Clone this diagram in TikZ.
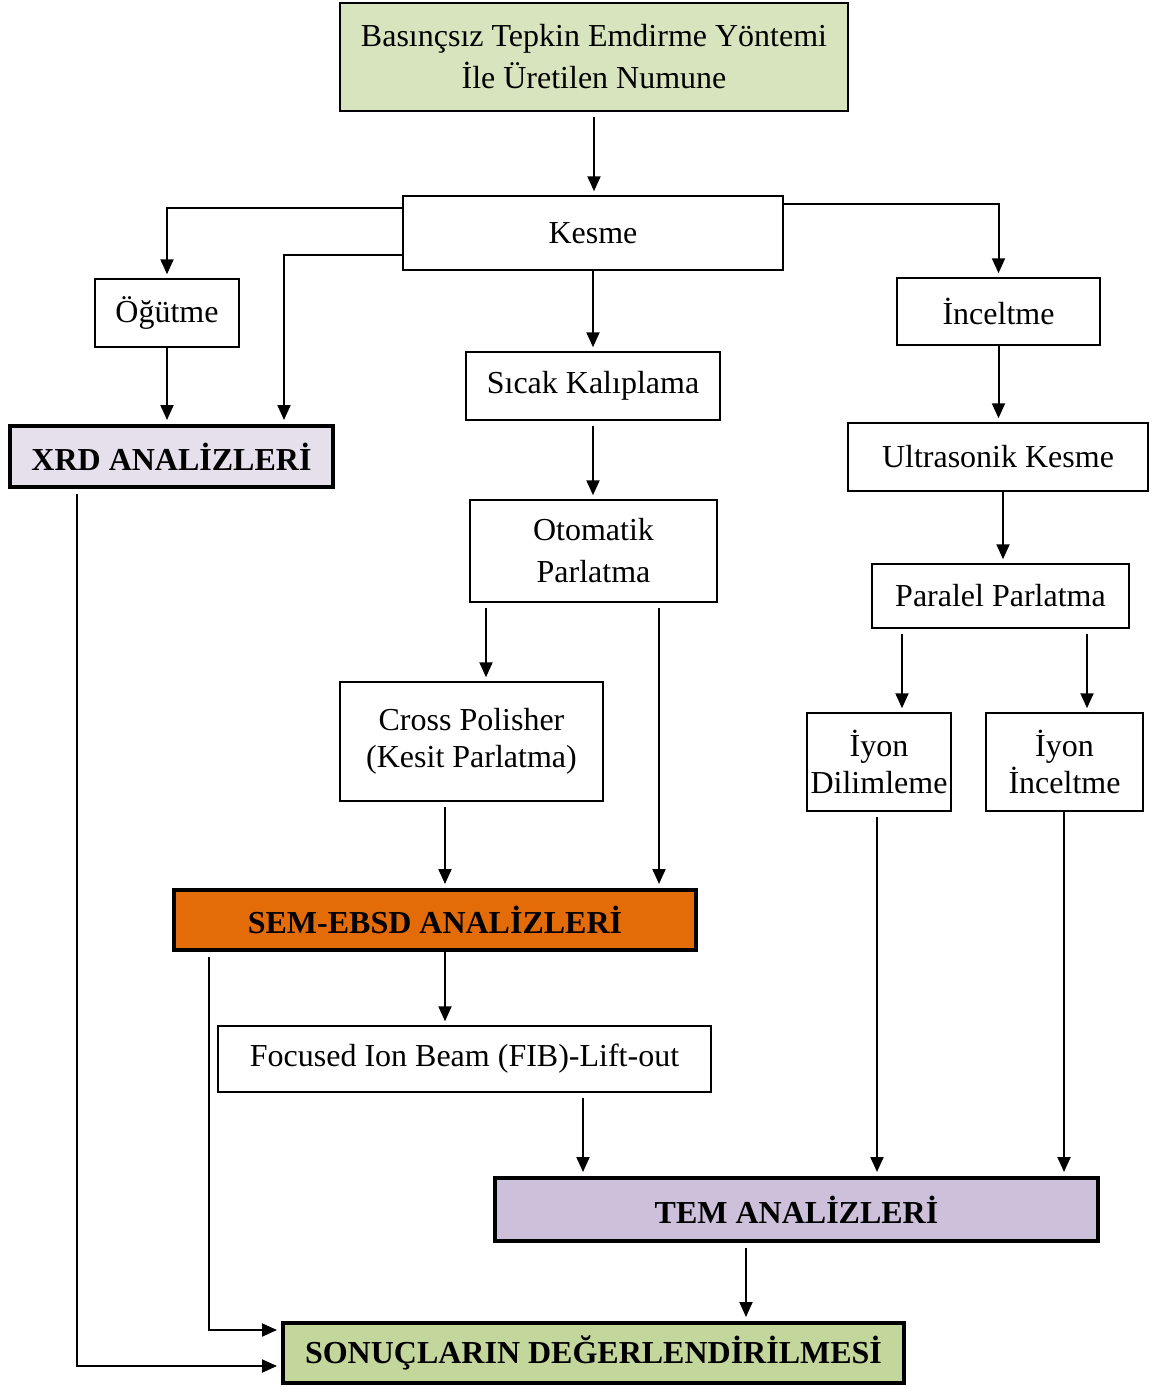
\documentclass[tikz,border=0pt]{standalone}
\usepackage{fontspec}
\setmainfont{Liberation Serif}
\usetikzlibrary{arrows.meta}
\definecolor{topgreen}{HTML}{D7E4BD}
\definecolor{xrdlav}{HTML}{E5E0EC}
\definecolor{semorange}{HTML}{E36C09}
\definecolor{temlav}{HTML}{CCC0DA}
\definecolor{resgreen}{HTML}{C3D69B}
\tikzset{
  box/.style={draw, line width=0.75pt, inner sep=0pt, align=center, font=\fontsize{16}{21}\selectfont},
  boldbox/.style={box, line width=2pt, font=\fontsize{16}{21}\selectfont\bfseries},
  arr/.style={line width=1pt, -{Triangle[width=6.5pt,length=7.5pt]}, shorten >=2pt},
  arrg/.style={arr, shorten <=2.5pt}
}
\begin{document}
\begin{tikzpicture}[x=0.5pt,y=-0.5pt]
\useasboundingbox (0,0) rectangle (1152,1387);
\node[box, fill=topgreen, minimum width=254pt, minimum height=54pt] (top) at (594,57) {Basınçsız Tepkin Emdirme Yöntemi\\İle Üretilen Numune};
\node[box, minimum width=190pt, minimum height=37pt] (kesme) at (593,233) {Kesme};
\node[box, minimum width=72pt, minimum height=34pt] (ogutme) at (167,313) {Öğütme};
\node[boldbox, fill=xrdlav, minimum width=161.5pt, minimum height=30.5pt] (xrd) at (171.5,456.5) {XRD ANALİZLERİ};
\node[box, minimum width=101.5pt, minimum height=33.5pt] (inceltme) at (998.5,311.5) {İnceltme};
\node[box, minimum width=127pt, minimum height=34pt] (sicak) at (593,386) {Sıcak Kalıplama};
\node[box, minimum width=150pt, minimum height=34pt] (ultra) at (998,457) {Ultrasonik Kesme};
\node[box, minimum width=123.5pt, minimum height=51pt] (otomatik) at (593.5,551) {Otomatik\\Parlatma};
\node[box, minimum width=128.5pt, minimum height=32pt] (paralel) at (1000.5,596) {Paralel Parlatma};
\node[box, minimum width=131.5pt, minimum height=59.5pt, font=\fontsize{16}{18.5}\selectfont] (cross) at (471.5,741.5) {Cross Polisher\\(Kesit Parlatma)};
\node[box, minimum width=72pt, minimum height=49pt, font=\fontsize{16}{18.5}\selectfont] (iyond) at (879,762) {İyon\\Dilimleme};
\node[box, minimum width=78.5pt, minimum height=49pt, font=\fontsize{16}{18.5}\selectfont] (iyoni) at (1064.5,762) {İyon\\İnceltme};
\node[boldbox, fill=semorange, minimum width=261pt, minimum height=30pt] (sem) at (435,920) {SEM-EBSD ANALİZLERİ};
\node[box, minimum width=246.5pt, minimum height=33pt] (fib) at (464.5,1059) {Focused Ion Beam (FIB)-Lift-out};
\node[boldbox, fill=temlav, minimum width=301.5pt, minimum height=31.5pt] (tem) at (796.5,1209.5) {TEM ANALİZLERİ};
\node[boldbox, fill=resgreen, minimum width=310.5pt, minimum height=30pt] (sonuc) at (593.5,1353) {SONUÇLARIN DEĞERLENDİRİLMESİ};

\draw[arrg] (top.south) -- (top.south |- kesme.north);
\draw[arr] (kesme.west |- 0,208) -| (ogutme.north);
\draw[arr] (kesme.west |- 0,255) -| (xrd.north -| 284,0);
\draw[arr] (ogutme.south) -- (xrd.north -| ogutme.south);
\draw[arr] (kesme.east |- 0,204) -| (inceltme.north);
\draw[arr] (kesme.south) -- (sicak.north);
\draw[arrg] (sicak.south) -- (sicak.south |- otomatik.north);
\draw[arr] (inceltme.south) -- (inceltme.south |- ultra.north);
\draw[arr] (ultra.south -| 1003,0) -- (paralel.north -| 1003,0);
\draw[arrg] (otomatik.south -| 486,0) -- (cross.north -| 486,0);
\draw[arrg] (otomatik.south -| 659,0) -- (sem.north -| 659,0);
\draw[arrg] (paralel.south -| 902,0) -- (iyond.north -| 902,0);
\draw[arrg] (paralel.south -| 1087,0) -- (iyoni.north -| 1087,0);
\draw[arrg] (cross.south -| 445,0) -- (sem.north -| 445,0);
\draw[arr] (sem.south -| 445,0) -- (fib.north -| 445,0);
\draw[arrg] (fib.south -| 583,0) -- (tem.north -| 583,0);
\draw[arrg] (iyond.south -| 877,0) -- (tem.north -| 877,0);
\draw[arr] (iyoni.south -| 1064,0) -- (tem.north -| 1064,0);
\draw[arrg] (tem.south -| 746,0) -- (sonuc.north -| 746,0);
\draw[arrg] (sem.south -| 209,0) |- (sonuc.west |- 0,1330);
\draw[arrg] (xrd.south -| 77,0) |- (sonuc.west |- 0,1366);
\end{tikzpicture}
\end{document}
